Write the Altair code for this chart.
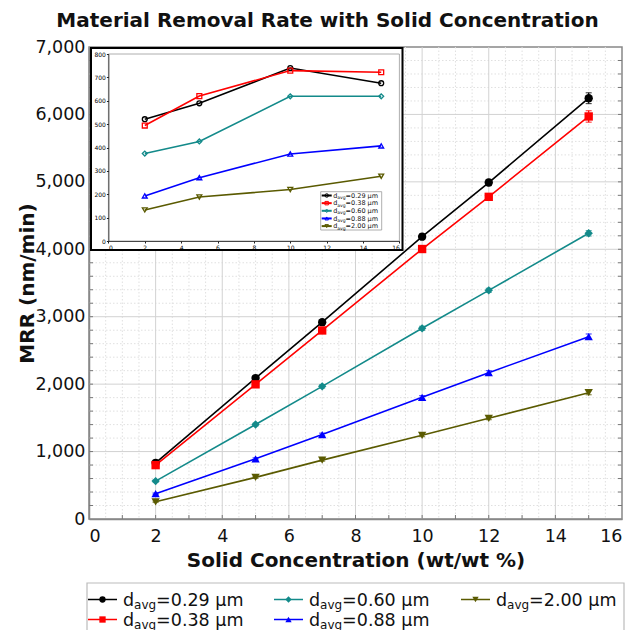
import altair as alt
import pandas as pd
import numpy as np

# ---------------- data ----------------
chart_title = "Material Removal Rate with Solid Concentration"
x_title = "Solid Concentration (wt/wt %)"
y_title = "MRR (nm/min)"

series = ["0.29", "0.38", "0.60", "0.88", "2.00"]
colors = ["#000000", "#ff0000", "#138a8a", "#0000ff", "#5a5a00"]
shapes = ["circle", "square", "diamond", "triangle-up", "triangle-down"]

conc = [2, 5, 7, 10, 12, 15]
mrr_029 = [833, 2090, 2919, 4187, 4990, 6241]
mrr_038 = [799, 1997, 2796, 4004, 4778, 5970]
mrr_060 = [562, 1401, 1967, 2828, 3391, 4237]
mrr_088 = [375, 892, 1253, 1804, 2170, 2704]
mrr_200 = [255, 617, 873, 1241, 1493, 1873]
err_029 = [20, 30, 30, 40, 45, 80]
err_038 = [20, 25, 30, 40, 45, 85]
err_060 = [15, 20, 25, 30, 30, 40]
err_088 = [10, 15, 20, 25, 30, 40]
err_200 = [10, 15, 15, 20, 20, 30]

inset_conc = [2, 5, 10, 15]
ins_029 = [521, 589, 740, 675]
ins_038 = [494, 620, 729, 722]
ins_060 = [374, 426, 619, 619]
ins_088 = [193, 271, 372, 407]
ins_200 = [133, 188, 220, 277]

x_major = [0, 2, 4, 6, 8, 10, 12, 14, 16]
y_major = [0, 1000, 2000, 3000, 4000, 5000, 6000, 7000]
inset_x_ticks = [0, 2, 4, 6, 8, 10, 12, 14, 16]
inset_y_ticks = [0, 100, 200, 300, 400, 500, 600, 700, 800]

mrr_all = [mrr_029, mrr_038, mrr_060, mrr_088, mrr_200]
err_all = [err_029, err_038, err_060, err_088, err_200]
ins_all = [ins_029, ins_038, ins_060, ins_088, ins_200]

# ---------------- tables ----------------
rows = []
for s, vals, errs in zip(series, mrr_all, err_all):
    for c, v, e in zip(conc, vals, errs):
        rows.append({"series": s, "conc": c, "mrr": v, "lo": v - e, "hi": v + e})
df = pd.DataFrame(rows)

irows = []
for s, vals in zip(series, ins_all):
    for c, v in zip(inset_conc, vals):
        irows.append({"series": s, "conc": c, "mrr": v})
dfi = pd.DataFrame(irows)

# grid / tick helper tables
gx_minor = pd.DataFrame({"conc": [v for v in np.arange(0.5, 16, 0.5) if v % 2 != 0]})
gy_minor = pd.DataFrame({"mrr": [v for v in range(200, 7000, 200) if v % 1000 != 0]})
gx_major = pd.DataFrame({"conc": x_major[1:-1]})
gy_major = pd.DataFrame({"mrr": y_major[1:-1]})
tx = pd.DataFrame({"conc": list(range(1, 16))})
ty = pd.DataFrame({"mrr": list(range(200, 7000, 200))})

FONT = "DejaVu Sans"
W, H = 533, 472
FULL_H = 622

color = alt.Color("series:N", scale=alt.Scale(domain=series, range=colors), legend=None)
shape = alt.Shape("series:N", scale=alt.Scale(domain=series, range=shapes), legend=None)

# ---------------- main plot ----------------
x_axis = alt.Axis(
    values=x_major, labelExpr="format(datum.value, 'd')", grid=False, labelOverlap=False,
    labelFontSize=17.5, labelFont=FONT, labelColor="#111", labelPadding=8,
    ticks=False, domainColor="#888", domainWidth=1.5,
    title=x_title, titleFont=FONT, titleFontSize=20, titleFontWeight="bold",
    titleColor="#111", titleBaseline="alphabetic", titleY=47,
)
y_axis = alt.Axis(
    values=y_major, labelExpr="format(datum.value, ',')", grid=False, labelOverlap=False,
    labelFontSize=17.5, labelFont=FONT, labelColor="#111", labelPadding=4,
    ticks=False, domainColor="#888", domainWidth=1.5,
    title=y_title, titleFont=FONT, titleFontSize=20, titleFontWeight="bold",
    titleColor="#111", titleBaseline="alphabetic", titleAngle=270, titleAlign="center",
    titleX=-56, titleY=H / 2,
)

xm = alt.X("conc:Q", scale=alt.Scale(domain=[0, 16], nice=False, zero=False), axis=x_axis)
ym = alt.Y("mrr:Q", scale=alt.Scale(domain=[0, 7000], nice=False), axis=y_axis)

g_xmin = alt.Chart(gx_minor).mark_rule(color="#e0e0e0", strokeWidth=1, strokeDash=[1.5, 2]).encode(x=xm)
g_ymin = alt.Chart(gy_minor).mark_rule(color="#e0e0e0", strokeWidth=1, strokeDash=[1.5, 2]).encode(y=ym)
g_xmaj = alt.Chart(gx_major).mark_rule(color="#d2d2d2", strokeWidth=1).encode(x="conc:Q")
g_ymaj = alt.Chart(gy_major).mark_rule(color="#d2d2d2", strokeWidth=1).encode(y="mrr:Q")
t_x = alt.Chart(tx).mark_rule(color="#777", strokeWidth=1).encode(
    x="conc:Q", y=alt.value(H - 4), y2=alt.value(H))
t_yl = alt.Chart(ty).mark_rule(color="#777", strokeWidth=1).encode(
    y="mrr:Q", x=alt.value(0), x2=alt.value(4))
t_yr = alt.Chart(ty).mark_rule(color="#777", strokeWidth=1).encode(
    y="mrr:Q", x=alt.value(W - 4), x2=alt.value(W))

base = alt.Chart(df)
m_lines = base.mark_line(strokeWidth=1.6).encode(x="conc:Q", y="mrr:Q", color=color)
m_err = base.mark_rule(strokeWidth=1.2).encode(x="conc:Q", y="lo:Q", y2="hi:Q", color=color)
m_caps_lo = base.mark_tick(orient="horizontal", size=6, thickness=1.2).encode(x="conc:Q", y="lo:Q", color=color)
m_caps_hi = base.mark_tick(orient="horizontal", size=6, thickness=1.2).encode(x="conc:Q", y="hi:Q", color=color)
m_pts = base.mark_point(filled=True, size=70, opacity=1).encode(x="conc:Q", y="mrr:Q", color=color, shape=shape)
main = alt.layer(g_xmin, g_ymin, g_xmaj, g_ymaj, t_x, t_yl, t_yr, m_lines, m_err, m_caps_lo, m_caps_hi, m_pts)

# ---------------- inset ----------------
IX0, IX1 = 19.4, 310.4
IY0, IY1 = 194, 7

xi = alt.X(
    "conc:Q",
    scale=alt.Scale(domain=[0, 16], range=[IX0, IX1], nice=False, zero=False),
    axis=alt.Axis(orient="bottom", offset=-(H - IY0), values=inset_x_ticks, grid=False, zindex=2,
                  labelFontSize=6, labelFont=FONT, labelPadding=1, tickSize=2, tickColor="#222",
                  domainColor="#222", domainWidth=0.8, labelExpr="format(datum.value, 'd')",
                  title=None, labelOverlap=False),
)
yi = alt.Y(
    "mrr:Q",
    scale=alt.Scale(domain=[0, 800], range=[IY0, IY1], nice=False, zero=False),
    axis=alt.Axis(orient="left", offset=-IX0, values=inset_y_ticks, grid=False, zindex=2,
                  labelFontSize=6, labelFont=FONT, labelPadding=1, tickSize=2, tickColor="#222",
                  domainColor="#222", domainWidth=0.8, labelExpr="format(datum.value, 'd')",
                  title=None, labelOverlap=False),
)

one = pd.DataFrame({"k": [0]})
i_frame = alt.Chart(one).mark_rect(fill="white", stroke="black", strokeWidth=2).encode(
    x=alt.value(2), x2=alt.value(313.5), y=alt.value(1), y2=alt.value(203)
)
ibase = alt.Chart(dfi)
i_lines = ibase.mark_line(strokeWidth=1.6).encode(x=xi, y=yi, color=color)
i_pts = ibase.mark_point(filled=False, size=24, strokeWidth=1.3, opacity=1).encode(
    x="conc:Q", y="mrr:Q", color=color, shape=shape
)
i_box = alt.Chart(one).mark_rect(fill=None, stroke="#999", strokeWidth=0.8).encode(
    x=alt.datum(0), x2=alt.datum(16), y=alt.datum(0), y2=alt.datum(800)
)
inset = alt.layer(i_frame, i_lines, i_pts, i_box)

# ---------------- legends (drawn as marks in pixel space) ----------------
col_left = [-1, 185, 372]
row_y = [552.5, 572.5]
leg = []
for i, s in enumerate(series):
    left = col_left[i // 2]
    cy = row_y[i % 2]
    leg.append({
        "series": s, "x1": left, "x2": left + 29, "mx": left + 14.5, "cy": cy,
        "tx": left + 35, "sx": left + 35 + 11.1, "rx": left + 35 + 11.1 + 22.0,
        "ty": cy + 6.5, "sy": cy + 9.0, "rest": "=" + s + " µm",
    })
dleg = pd.DataFrame(leg)

ileg = []
for i, s in enumerate(series):
    cy = 148.5 + i * 7.65
    left = 232.7
    ileg.append({
        "series": s, "x1": left, "x2": left + 10, "mx": left + 5, "cy": cy,
        "tx": left + 11.5, "sx": left + 11.5 + 4.1, "rx": left + 11.5 + 4.1 + 8.3,
        "ty": cy + 2.3, "sy": cy + 3.5, "rest": "=" + s + " µm",
    })
dileg = pd.DataFrame(ileg)

boxes = pd.DataFrame({
    "bx1": [-2, 231.7], "bx2": [535, 292.7], "by1": [536, 144.7], "by2": [600, 183],
})

PXS = alt.Scale(domain=[0, W], range=[0, W], nice=False, zero=False)
PYS = alt.Scale(domain=[0, FULL_H], range=[0, FULL_H], nice=False, zero=False)

def px(f):
    return alt.X(f, type="quantitative", scale=PXS, axis=None)

def py(f):
    return alt.Y(f, type="quantitative", scale=PYS, axis=None)

box_main = alt.Chart(boxes.iloc[[0]]).mark_rect(fill="white", stroke="#bbbbbb", strokeWidth=1.2).encode(
    x=px("bx1"), x2="bx2:Q", y=py("by1"), y2="by2:Q"
)
box_in = alt.Chart(boxes.iloc[[1]]).mark_rect(fill="white", stroke="#999999", strokeWidth=0.8).encode(
    x=px("bx1"), x2="bx2:Q", y=py("by1"), y2="by2:Q"
)

def legend_layers(d, lw, msize, mfilled, fs, sfs):
    b = alt.Chart(d)
    return [
        b.mark_rule(strokeWidth=lw).encode(x=px("x1"), x2="x2:Q", y=py("cy"), color=color),
        b.mark_point(filled=mfilled, size=msize, opacity=1, strokeWidth=1.0).encode(
            x=px("mx"), y=py("cy"), color=color, shape=shape),
        b.mark_text(align="left", baseline="alphabetic", font=FONT, fontSize=fs, color="#111").encode(
            x=px("tx"), y=py("ty"), text=alt.value("d")),
        b.mark_text(align="left", baseline="alphabetic", font=FONT, fontSize=sfs, color="#111").encode(
            x=px("sx"), y=py("sy"), text=alt.value("avg")),
        b.mark_text(align="left", baseline="alphabetic", font=FONT, fontSize=fs, color="#111").encode(
            x=px("rx"), y=py("ty"), text="rest:N"),
    ]

overlay = alt.layer(
    box_in,
    *legend_layers(dileg, 2, 12, False, 6.5, 4.5),
    box_main,
    *legend_layers(dleg, 1.5, 40, True, 17.5, 12),
)

chart = alt.layer(main, inset, overlay).resolve_scale(x="independent", y="independent").properties(
    width=W,
    height=H,
    title=alt.TitleParams(chart_title, font=FONT, fontSize=20, fontWeight="bold", color="#111",
                          anchor="middle", dx=-28, dy=9, baseline="alphabetic", offset=0),
    padding={"left": 81, "top": 39, "right": 3, "bottom": FULL_H - 39 - H},
    autosize=alt.AutoSizeParams(type="none"),
).configure_view(stroke="#888", strokeWidth=1.5)

chart.save("out.html", embed_options={"renderer": "svg", "actions": False})
